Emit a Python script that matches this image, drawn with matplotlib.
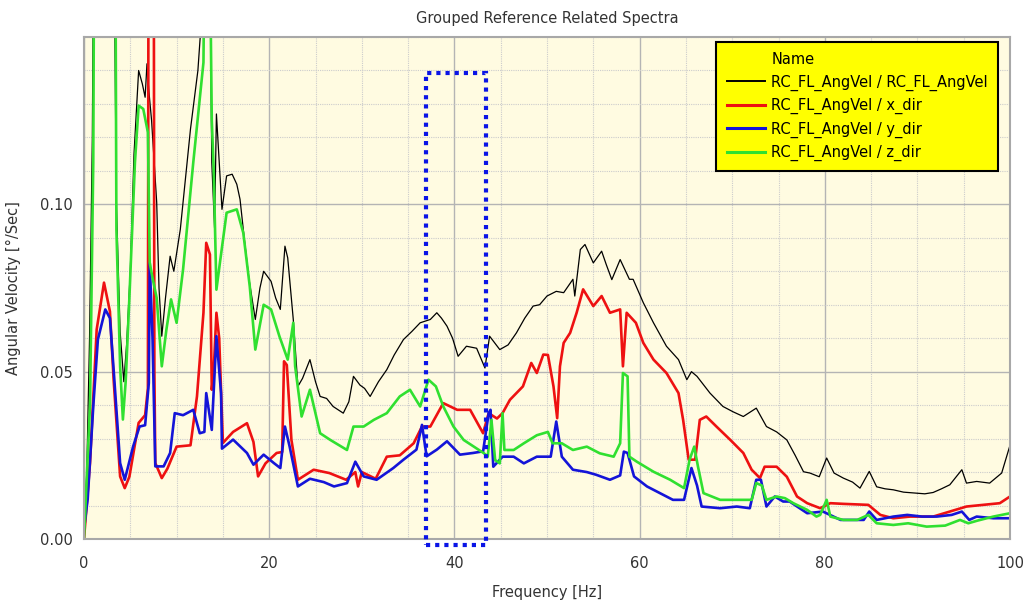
import numpy as np
import matplotlib.pyplot as plt
from matplotlib.patches import Rectangle
from matplotlib.lines import Line2D

# Spectra (frequency in Hz, angular velocity in deg/s)
freq_ref = [0, 0.3, 0.6, 0.9, 1.2, 3.0, 3.5, 3.9, 4.3, 4.6, 5.0, 5.4, 5.9, 6.3, 6.6, 6.8, 7.0, 7.3,
            7.85, 8.1, 8.4, 8.8, 9.3, 9.7, 10.4, 11.5, 12.3, 12.6, 13.0, 13.5, 13.8, 14.1, 14.3, 14.9,
            15.4, 16.0, 16.5, 16.85, 17.3, 17.8, 18.5, 19.0, 19.4, 20.2, 20.7, 21.2, 21.7, 22.0, 22.6,
            23.1, 23.6, 24.4, 25.0, 25.5, 26.2, 26.9, 28.0, 28.6, 29.1, 29.8, 30.3, 30.9, 31.8, 32.7,
            33.5, 34.5, 35.4, 36.3, 37.4, 38.1, 38.6, 39.2, 39.8, 40.4, 41.3, 42.4, 43.3, 43.8, 44.9,
            45.8, 46.7, 47.6, 48.5, 49.2, 50.0, 51.0, 51.8, 52.8, 53.0, 53.6, 54.1, 55.0, 55.9, 56.4,
            57.0, 57.9, 58.9, 59.3, 60.4, 61.5, 62.9, 64.2, 65.1, 65.6, 66.2, 67.6, 69.0, 70.1, 71.2,
            72.6, 73.7, 74.8, 75.9, 76.8, 77.7, 78.4, 79.4, 80.2, 81.0, 82.0, 83.0, 83.8, 84.8, 85.6,
            86.5, 87.4, 88.5, 89.9, 90.8, 91.7, 92.6, 93.5, 94.8, 95.3, 96.4, 97.8, 99.1, 100]
val_ref = [0.0, 0.02, 0.06, 0.12, 0.25, 0.25, 0.10, 0.062, 0.047, 0.058, 0.08, 0.115, 0.140, 0.136,
           0.132, 0.142, 0.134, 0.125, 0.1006, 0.075, 0.0606, 0.072, 0.0845, 0.080, 0.0925, 0.1225,
           0.140, 0.152, 0.20, 0.20, 0.1125, 0.093, 0.127, 0.0985, 0.1085, 0.109, 0.106, 0.1015,
           0.090, 0.078, 0.0656, 0.075, 0.080, 0.077, 0.072, 0.0686, 0.0875, 0.084, 0.0656, 0.0456,
           0.048, 0.0536, 0.047, 0.0426, 0.042, 0.0396, 0.0376, 0.041, 0.0486, 0.046, 0.045, 0.0426,
           0.047, 0.0506, 0.055, 0.0596, 0.062, 0.0646, 0.0656, 0.0676, 0.066, 0.0636, 0.060, 0.0546,
           0.0576, 0.057, 0.0511, 0.0606, 0.0566, 0.058, 0.0616, 0.066, 0.0696, 0.070, 0.0726, 0.074,
           0.0736, 0.0776, 0.0726, 0.0865, 0.088, 0.0825, 0.086, 0.082, 0.0775, 0.0835, 0.0776,
           0.0776, 0.0706, 0.0646, 0.0576, 0.0536, 0.0476, 0.050, 0.0486, 0.0436, 0.0396, 0.038,
           0.0366, 0.0391, 0.0336, 0.032, 0.0296, 0.025, 0.0201, 0.0197, 0.0186, 0.0242, 0.0197,
           0.0182, 0.017, 0.0152, 0.0202, 0.0156, 0.015, 0.0147, 0.014, 0.0137, 0.0135, 0.0139,
           0.015, 0.0162, 0.0207, 0.0167, 0.0172, 0.0167, 0.0197, 0.028]

freq_x = [0, 0.65, 1.37, 2.16, 2.8, 3.2, 3.9, 4.4, 4.9, 5.9, 6.6, 6.9, 7.0, 7.5, 7.6, 7.7, 8.4, 9.0,
          10.0, 11.5, 12.2, 12.9, 13.2, 13.6, 13.8, 14.0, 14.3, 14.6, 15.0, 16.1, 17.6, 18.3, 18.8,
          19.6, 20.8, 21.4, 21.6, 21.9, 22.4, 23.1, 24.8, 26.5, 28.3, 29.3, 29.6, 30.0, 31.5, 32.7,
          34.1, 35.6, 36.5, 37.4, 38.8, 40.3, 41.7, 43.1, 43.7, 44.6, 45.2, 46.0, 47.4, 48.3, 48.9,
          49.6, 50.1, 50.7, 51.1, 51.4, 51.8, 52.5, 53.2, 53.9, 55.0, 55.9, 56.8, 57.9, 58.2, 58.6,
          59.6, 60.4, 61.5, 62.9, 64.2, 64.7, 65.3, 66.0, 66.5, 67.2, 68.3, 69.8, 71.2, 72.1, 73.0,
          73.5, 74.8, 75.9, 77.0, 78.1, 79.5, 80.6, 82.0, 84.7, 86.0, 87.4, 89.2, 91.7, 93.5, 95.3,
          97.1, 98.9, 100]
val_x = [0.0, 0.0227, 0.0626, 0.0766, 0.068, 0.0476, 0.0187, 0.0152, 0.0186, 0.0347, 0.037, 0.045,
         0.25, 0.25, 0.05, 0.0227, 0.0182, 0.021, 0.0276, 0.028, 0.0426, 0.0676, 0.0885, 0.085,
         0.0446, 0.050, 0.0676, 0.060, 0.0287, 0.032, 0.0346, 0.029, 0.0187, 0.0226, 0.0257, 0.026,
         0.0531, 0.052, 0.0296, 0.0177, 0.0207, 0.0197, 0.0177, 0.020, 0.0157, 0.020, 0.018, 0.0246,
         0.025, 0.0286, 0.0336, 0.0336, 0.0406, 0.0386, 0.0386, 0.0316, 0.0376, 0.036, 0.0376,
         0.0416, 0.0456, 0.0526, 0.0496, 0.0551, 0.055, 0.0456, 0.0361, 0.0516, 0.0586, 0.0616,
         0.0676, 0.0746, 0.0696, 0.0726, 0.0676, 0.0686, 0.0516, 0.0676, 0.0646, 0.0586, 0.0536,
         0.0496, 0.0436, 0.0356, 0.0237, 0.0237, 0.0356, 0.0366, 0.0336, 0.0296, 0.0257, 0.0207,
         0.0182, 0.0216, 0.0216, 0.0186, 0.0127, 0.0107, 0.0092, 0.0107, 0.0105, 0.0102, 0.0072,
         0.0062, 0.0067, 0.0067, 0.0082, 0.0097, 0.0102, 0.0107, 0.0127]

freq_y = [0, 0.4, 1.0, 1.5, 2.3, 2.8, 3.2, 3.9, 4.4, 5.3, 6.0, 6.6, 7.0, 7.1, 7.4, 7.7, 8.6, 9.3,
          9.8, 10.7, 11.8, 12.5, 13.0, 13.2, 13.8, 14.3, 14.8, 14.9, 16.1, 17.6, 18.3, 19.4, 20.5,
          21.2, 21.7, 22.2, 23.1, 24.4, 25.9, 27.0, 28.4, 29.3, 30.2, 31.6, 33.4, 34.5, 35.9, 36.5,
          37.0, 38.1, 39.2, 40.6, 42.0, 43.1, 43.7, 43.9, 44.2, 45.2, 46.4, 47.5, 48.9, 50.4, 51.0,
          51.6, 52.8, 54.3, 55.3, 56.8, 57.9, 58.3, 58.7, 59.4, 60.8, 62.2, 63.6, 64.8, 65.6, 66.2,
          66.7, 68.7, 70.5, 71.9, 72.6, 73.1, 73.7, 74.6, 75.5, 76.2, 78.1, 79.8, 81.7, 84.2, 84.8,
          85.6, 87.4, 88.9, 90.5, 92.1, 93.7, 94.8, 95.6, 96.4, 98.2, 100]
val_y = [0.003, 0.012, 0.0396, 0.0596, 0.0686, 0.066, 0.0506, 0.0227, 0.0177, 0.0276, 0.0336,
         0.034, 0.0466, 0.0825, 0.060, 0.0217, 0.0217, 0.0257, 0.0376, 0.037, 0.0386, 0.0316,
         0.032, 0.0436, 0.0326, 0.0606, 0.0436, 0.027, 0.0297, 0.0257, 0.0222, 0.0252, 0.0227,
         0.0212, 0.0336, 0.0277, 0.0157, 0.018, 0.017, 0.0157, 0.0167, 0.0231, 0.0187, 0.0177,
         0.0212, 0.0237, 0.0267, 0.0341, 0.0247, 0.0267, 0.0292, 0.0252, 0.0257, 0.0262, 0.0376,
         0.0386, 0.0216, 0.0246, 0.0246, 0.0226, 0.0246, 0.0246, 0.0351, 0.0246, 0.0207, 0.020,
         0.0192, 0.0177, 0.019, 0.0261, 0.0257, 0.0187, 0.0157, 0.0137, 0.0117, 0.0117, 0.0212,
         0.016, 0.0097, 0.0092, 0.0097, 0.0092, 0.0177, 0.0177, 0.0097, 0.0127, 0.0112, 0.0112,
         0.0077, 0.0082, 0.0057, 0.0057, 0.0082, 0.0057, 0.0067, 0.0072, 0.0067, 0.0067, 0.0072,
         0.0082, 0.0057, 0.0067, 0.0062, 0.0062]

freq_z = [0, 0.65, 1.0, 1.2, 3.3, 3.5, 3.9, 4.2, 4.5, 4.9, 5.5, 5.9, 6.4, 6.9, 7.1, 7.4, 7.85, 8.4,
          8.9, 9.4, 10.0, 10.7, 11.8, 12.9, 13.1, 13.5, 13.8, 14.0, 14.3, 14.7, 15.4, 16.5, 17.2,
          17.9, 18.5, 19.4, 20.2, 21.1, 22.0, 22.6, 22.8, 23.5, 24.4, 25.5, 26.6, 28.4, 29.1, 30.2,
          31.3, 32.7, 34.1, 35.2, 36.3, 37.2, 38.0, 38.8, 39.9, 41.0, 42.1, 43.2, 43.6, 44.0, 44.4,
          44.9, 45.2, 45.4, 46.4, 47.5, 48.9, 50.1, 50.6, 51.6, 52.8, 54.3, 55.7, 57.2, 57.9, 58.2,
          58.7, 58.9, 59.7, 61.5, 63.3, 64.8, 65.4, 65.9, 66.3, 66.9, 68.7, 70.5, 72.1, 72.6, 73.2,
          73.7, 74.8, 75.7, 76.6, 78.1, 79.1, 79.5, 80.2, 80.6, 82.0, 83.5, 84.7, 85.6, 87.4, 89.0,
          91.0, 93.0, 94.6, 95.5, 96.5, 98.2, 100]
val_z = [0.0, 0.04, 0.1125, 0.25, 0.25, 0.0925, 0.0516, 0.0357, 0.047, 0.072, 0.1125, 0.1295,
         0.1285, 0.1215, 0.0825, 0.078, 0.072, 0.0516, 0.0626, 0.0716, 0.0646, 0.0806, 0.1125,
         0.1424, 0.20, 0.20, 0.125, 0.111, 0.0745, 0.083, 0.0975, 0.0985, 0.0915, 0.0755, 0.0566,
         0.070, 0.0686, 0.0606, 0.0536, 0.0646, 0.0516, 0.0366, 0.0446, 0.0316, 0.0296, 0.0266,
         0.0336, 0.0336, 0.0356, 0.0376, 0.0426, 0.0446, 0.0396, 0.0476, 0.0456, 0.0396, 0.0336,
         0.0296, 0.0276, 0.0256, 0.0246, 0.0356, 0.0236, 0.0226, 0.0376, 0.0266, 0.0266, 0.0286,
         0.031, 0.032, 0.0286, 0.0286, 0.0266, 0.0276, 0.0256, 0.0246, 0.0286, 0.0496, 0.0486,
         0.0246, 0.0231, 0.0201, 0.0177, 0.0152, 0.0237, 0.0276, 0.0217, 0.0137, 0.0117, 0.0117,
         0.0117, 0.0167, 0.016, 0.0117, 0.0127, 0.0122, 0.0107, 0.0087, 0.0067, 0.0072, 0.0117,
         0.0067, 0.0057, 0.0057, 0.0072, 0.0047, 0.0042, 0.0047, 0.0037, 0.0040, 0.0057, 0.0047,
         0.0055, 0.0067, 0.0077]

series_names = ['RC_FL_AngVel / RC_FL_AngVel', 'RC_FL_AngVel / x_dir',
                'RC_FL_AngVel / y_dir', 'RC_FL_AngVel / z_dir']

# highlighted band (dotted box)
band_lo, band_hi = 36.95, 43.45
band_bottom, band_top = -0.0018, 0.1392


def main():
    plt.rcParams['font.family'] = ['DejaVu Sans']
    fig = plt.figure(figsize=(10.24, 6.02), dpi=100)
    ax = fig.add_axes([84 / 1024, 63 / 602, 926 / 1024, 502 / 602])
    ax.set_facecolor('#fffbe1')

    l0, = ax.plot(freq_ref, val_ref, color='black', lw=0.9)
    l1, = ax.plot(freq_x, val_x, color='#ee1111', lw=1.9)
    l2, = ax.plot(freq_y, val_y, color='#1414d8', lw=1.9)
    l3, = ax.plot(freq_z, val_z, color='#30e030', lw=1.9)

    ax.add_patch(Rectangle((band_lo, band_bottom), band_hi - band_lo, band_top - band_bottom,
                           fill=False, edgecolor='#0a14e6', lw=3, ls=(0, (1, 1.2)),
                           clip_on=False, zorder=5))

    ax.set_xlim(0, 100)
    ax.set_ylim(0, 0.15)
    ax.set_xticks(np.arange(0, 101, 20))
    ax.set_xticks(np.arange(0, 101, 5), minor=True)
    ax.set_yticks([0.0, 0.05, 0.10])
    ax.set_yticks(np.arange(0, 0.151, 0.01), minor=True)
    ax.set_yticklabels(['0.00', '0.05', '0.10'])
    ax.grid(which='major', color='#b4b4b4', lw=1.0)
    ax.grid(which='minor', color='#cccccc', lw=0.8, ls=(0, (1, 1)))
    ax.set_axisbelow(True)
    ax.tick_params(which='both', length=0, labelsize=10.5, colors='#333333', pad=8)
    ax.tick_params(axis='x', pad=12)
    for sp in ax.spines.values():
        sp.set_color('#a8a8a8')
        sp.set_linewidth(1.5)

    ax.set_xlabel('Frequency [Hz]', fontsize=10.5, color='#333333', labelpad=10)
    ax.set_ylabel('Angular Velocity [°/Sec]', fontsize=10.5, color='#333333', labelpad=14)
    ax.set_title('Grouped Reference Related Spectra', fontsize=10.5, color='#333333', pad=10)

    # "Name" header sits over the label column, so use a blank handle for it
    header = Line2D([], [], color='none')
    leg = ax.legend([header, l0, l1, l2, l3], ['Name'] + series_names,
                    loc='upper left', bbox_to_anchor=(0.683, 0.99),
                    fontsize=10.5, frameon=True, fancybox=False,
                    facecolor='#ffff00', edgecolor='black', framealpha=1.0,
                    handlelength=2.6, handletextpad=0.45, borderpad=0.7,
                    labelspacing=0.5, borderaxespad=0)
    leg.get_frame().set_linewidth(1.5)
    for line in leg.get_lines()[1:]:
        line.set_linewidth(2.2)
    leg.get_lines()[1].set_linewidth(1.4)

    fig.savefig('out.png', dpi=100)


if __name__ == "__main__":
    main()
